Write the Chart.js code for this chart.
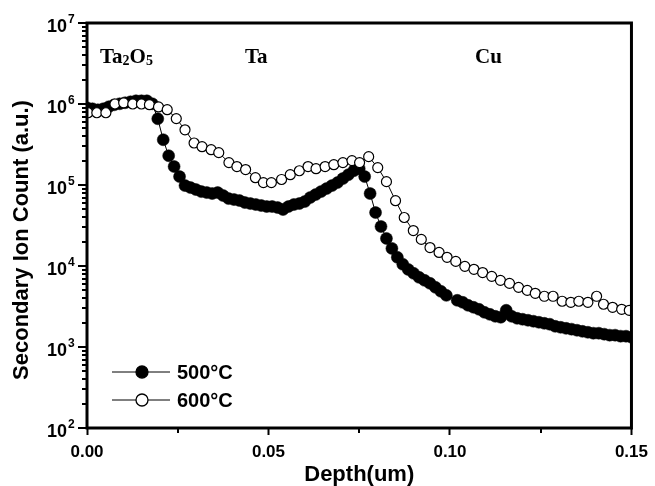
<!DOCTYPE html>
<html>
<head>
<meta charset="utf-8">
<script src="https://cdn.jsdelivr.net/npm/chart.js@4.4.1/dist/chart.umd.min.js"></script>
<style>
  html, body { margin: 0; padding: 0; background: #fff; }
</style>
</head>
<body>
<canvas id="simsChart" width="655" height="486"></canvas>
<script>
// SIMS depth profile, sampled depth (um) and secondary ion counts
const depth500 = [
    0, 0.0015, 0.003, 0.0045, 0.006, 0.0075, 0.009, 0.0105, 0.012, 0.0135,
    0.015, 0.0165, 0.018, 0.0195, 0.021, 0.0225, 0.024, 0.0255, 0.027, 0.0285,
    0.03, 0.0315, 0.033, 0.0345, 0.036, 0.0375, 0.039, 0.0405, 0.042, 0.0435,
    0.045, 0.0465, 0.048, 0.0495, 0.051, 0.0525, 0.054, 0.0555, 0.057, 0.0585,
    0.06, 0.0615, 0.063, 0.0645, 0.066, 0.0675, 0.069, 0.0705, 0.072, 0.0735,
    0.075, 0.0765, 0.078, 0.0795, 0.081, 0.0825, 0.084, 0.0855, 0.087, 0.0885,
    0.09, 0.0915, 0.093, 0.0945, 0.096, 0.0975, 0.099, 0.1005, 0.102, 0.1035,
    0.105, 0.1065, 0.108, 0.1095, 0.111, 0.1125, 0.114, 0.1155, 0.117, 0.1185,
    0.12, 0.1215, 0.123, 0.1245, 0.126, 0.1275, 0.129, 0.1305, 0.132, 0.1335,
    0.135, 0.1365, 0.138, 0.1395, 0.141, 0.1425, 0.144, 0.1455, 0.147, 0.1485,
    0.15
];
const count500 = [
    8.98e5, 8.73e5, 8.48e5, 8.73e5, 9.24e5, 9.77e5, 1.006e6, 1.035e6, 1.064e6, 1.095e6,
    1.095e6, 1.095e6, 1.006e6, 6.57e5, 3.62e5, 2.30e5, 1.69e5, 1.27e5, 9.83e4, 9.29e4,
    8.78e4, 8.29e4, 8.06e4, 7.84e4, 8.06e4, 7.41e4, 6.80e4, 6.61e4, 6.43e4, 6.07e4,
    5.90e4, 5.74e4, 5.58e4, 5.42e4, 5.42e4, 5.27e4, 4.98e4, 5.42e4, 5.74e4, 5.90e4,
    6.25e4, 7.00e4, 7.62e4, 8.29e4, 9.03e4, 9.83e4, 1.07e5, 1.20e5, 1.34e5, 1.50e5,
    1.59e5, 1.27e5, 7.84e4, 4.57e4, 3.07e4, 2.19e4, 1.65e4, 1.28e4, 1.05e4, 9.08e3,
    8.11e3, 7.24e3, 6.65e3, 6.11e3, 5.45e3, 4.87e3, 4.34e3, null, 3.77e3, 3.56e3,
    3.27e3, 3.09e3, 2.92e3, 2.68e3, 2.53e3, 2.39e3, 2.33e3, 2.84e3, 2.39e3, 2.26e3,
    2.20e3, 2.14e3, 2.08e3, 2.02e3, 1.96e3, 1.91e3, 1.80e3, 1.75e3, 1.70e3, 1.66e3,
    1.61e3, 1.56e3, 1.52e3, 1.48e3, 1.48e3, 1.44e3, 1.40e3, 1.40e3, 1.36e3, 1.36e3,
    1.32e3
];
const depth600 = [
    0.0003, 0.0027, 0.0052, 0.0077, 0.0101, 0.0126, 0.0150, 0.0172, 0.0197, 0.0221,
    0.0246, 0.0270, 0.0295, 0.0317, 0.0342, 0.0363, 0.0391, 0.0413, 0.0437, 0.0464,
    0.0486, 0.0508, 0.0536, 0.0560, 0.0585, 0.0609, 0.0631, 0.0656, 0.0680, 0.0705,
    0.0730, 0.0751, 0.0776, 0.0801, 0.0825, 0.0850, 0.0874, 0.0899, 0.0921, 0.0945,
    0.0970, 0.0992, 0.1016, 0.1041, 0.1066, 0.1090, 0.1115, 0.1139, 0.1164, 0.1189,
    0.1213, 0.1235, 0.1260, 0.1284, 0.1309, 0.1333, 0.1355, 0.1380, 0.1404, 0.1423,
    0.1448, 0.1473, 0.1494
];
const count600 = [
    7.8e5, 7.8e5, 7.8e5, 1.0e6, 1.035e6, 1.0e6, 1.0e6, 9.8e5, 9.2e5, 8.5e5,
    6.6e5, 4.8e5, 3.3e5, 2.97e5, 2.73e5, 2.51e5, 1.89e5, 1.69e5, 1.55e5, 1.23e5,
    1.07e5, 1.07e5, 1.17e5, 1.34e5, 1.50e5, 1.69e5, 1.59e5, 1.69e5, 1.78e5, 1.89e5,
    2.00e5, 1.89e5, 2.24e5, 1.64e5, 1.10e5, 6.4e4, 3.97e4, 2.74e4, 2.13e4, 1.69e4,
    1.47e4, 1.28e4, 1.14e4, 9.9e3, 9.1e3, 8.3e3, 7.45e3, 6.65e3, 6.1e3, 5.45e3,
    5.0e3, 4.6e3, 4.23e3, 4.23e3, 3.67e3, 3.56e3, 3.67e3, 3.56e3, 4.23e3, 3.37e3,
    3.09e3, 2.92e3, 2.84e3
];
const seriesNames = ['500\u00B0C', '600\u00B0C'];
const xMinorTicks = [0.025, 0.075, 0.125];
const yExponents = [2, 3, 4, 5, 6, 7];

const SANS = "'Liberation Sans', Arial, sans-serif";
const SERIF = "'Liberation Serif', 'Times New Roman', serif";

function toPoints(xs, ys) {
    return xs.map((x, i) => ({ x: x, y: ys[i] }));
}

// Frame, log ticks with superscript labels, layer names and the legend
const decorations = {
    id: 'decorations',
    afterDraw(chart) {
        const { ctx, chartArea: a, scales: { x, y } } = chart;
        ctx.save();
        ctx.strokeStyle = '#000';
        ctx.fillStyle = '#000';

        // y ticks: long at decades, short at 2..9
        ctx.lineWidth = 2;
        yExponents.forEach(e => {
            for (let m = 1; m <= 9; m++) {
                const v = m * Math.pow(10, e);
                if (v > y.max * 1.0001) break;
                const py = Math.round(y.getPixelForValue(v));
                const len = m === 1 ? 9 : 5;
                ctx.beginPath();
                ctx.moveTo(a.left, py);
                ctx.lineTo(a.left - len, py);
                ctx.stroke();
            }
        });

        // y labels as 10 with a raised exponent
        yExponents.forEach(e => {
            const py = y.getPixelForValue(Math.pow(10, e));
            ctx.font = 'bold 18px ' + SANS;
            ctx.textAlign = 'right';
            ctx.textBaseline = 'alphabetic';
            ctx.fillText('10', a.left - 20, py + 8.5);
            ctx.font = 'bold 12px ' + SANS;
            ctx.textAlign = 'left';
            ctx.fillText(String(e), a.left - 19, py);
        });

        // short minor ticks on the x axis
        xMinorTicks.forEach(v => {
            const px = Math.round(x.getPixelForValue(v));
            ctx.beginPath();
            ctx.moveTo(px, a.bottom);
            ctx.lineTo(px, a.bottom + 5);
            ctx.stroke();
        });

        // plot frame
        ctx.lineWidth = 3;
        ctx.strokeRect(a.left, a.top, a.right - a.left, a.bottom - a.top);

        // y axis title
        ctx.save();
        ctx.translate(22, 240);
        ctx.rotate(-Math.PI / 2);
        ctx.font = 'bold 22px ' + SANS;
        ctx.textAlign = 'center';
        ctx.textBaseline = 'middle';
        ctx.fillText('Secondary Ion Count (a.u.)', 0, 0);
        ctx.restore();

        // layer names
        const base = a.top + 40;
        ctx.textAlign = 'left';
        ctx.textBaseline = 'alphabetic';
        let cx = a.left + 13;
        const parts = [['Ta', false], ['2', true], ['O', false], ['5', true]];
        parts.forEach(([t, sub]) => {
            ctx.font = (sub ? 'bold 14px ' : 'bold 21px ') + SERIF;
            ctx.fillText(t, cx, sub ? base + 2 : base);
            cx += ctx.measureText(t).width;
        });
        ctx.font = 'bold 21px ' + SERIF;
        ctx.fillText('Ta', a.left + 158, base);
        ctx.fillText('Cu', a.left + 388, base);

        // legend
        const rows = [a.bottom - 56, a.bottom - 28];
        chart.data.datasets.forEach((ds, i) => {
            const ly = rows[i];
            ctx.lineWidth = 1;
            ctx.beginPath();
            ctx.moveTo(a.left + 25, ly);
            ctx.lineTo(a.left + 83, ly);
            ctx.stroke();
            ctx.beginPath();
            ctx.arc(a.left + 55, ly, 6, 0, Math.PI * 2);
            ctx.fillStyle = ds.pointBackgroundColor;
            ctx.fill();
            ctx.lineWidth = 1.3;
            ctx.stroke();
            ctx.fillStyle = '#000';
            ctx.font = 'bold 20px ' + SANS;
            ctx.textBaseline = 'middle';
            ctx.fillText(seriesNames[i], a.left + 90, ly + 1);
        });
        ctx.restore();
    }
};

const ctx = document.getElementById('simsChart').getContext('2d');
new Chart(ctx, {
    type: 'line',
    data: {
        datasets: [
            {
                label: seriesNames[0],
                data: toPoints(depth500, count500),
                borderColor: '#000',
                borderWidth: 1,
                pointRadius: 6,
                pointBackgroundColor: '#000',
                pointBorderColor: '#000',
                pointBorderWidth: 0.5,
                spanGaps: true,
                clip: 0,
                order: 1
            },
            {
                label: seriesNames[1],
                data: toPoints(depth600, count600),
                borderColor: '#000',
                borderWidth: 1,
                pointRadius: 5,
                pointBackgroundColor: '#fff',
                pointBorderColor: '#000',
                pointBorderWidth: 1.2,
                clip: 0,
                order: 0
            }
        ]
    },
    options: {
        responsive: false,
        animation: false,
        events: [],
        layout: { padding: { top: 23, right: 19, left: 0, bottom: 0 } },
        plugins: {
            legend: { display: false },
            tooltip: { enabled: false }
        },
        scales: {
            x: {
                type: 'linear',
                min: 0,
                max: 0.15,
                afterFit: s => { s.height = 58; },
                border: { display: false },
                grid: {
                    drawOnChartArea: false,
                    tickLength: 7,
                    tickWidth: 2,
                    tickColor: '#000'
                },
                ticks: {
                    stepSize: 0.05,
                    padding: 7,
                    color: '#000',
                    font: { family: SANS, size: 17, weight: 'bold' },
                    callback: v => Number(v).toFixed(2)
                },
                title: {
                    display: true,
                    text: 'Depth(um)',
                    color: '#000',
                    font: { family: SANS, size: 22, weight: 'bold', lineHeight: 1 },
                    padding: { top: 0, bottom: 0 }
                }
            },
            y: {
                type: 'logarithmic',
                min: 100,
                max: 1e7,
                afterFit: s => { s.width = 87; },
                border: { display: false },
                grid: { display: false },
                ticks: { display: false }
            }
        }
    },
    plugins: [decorations]
});
</script>
</body>
</html>
